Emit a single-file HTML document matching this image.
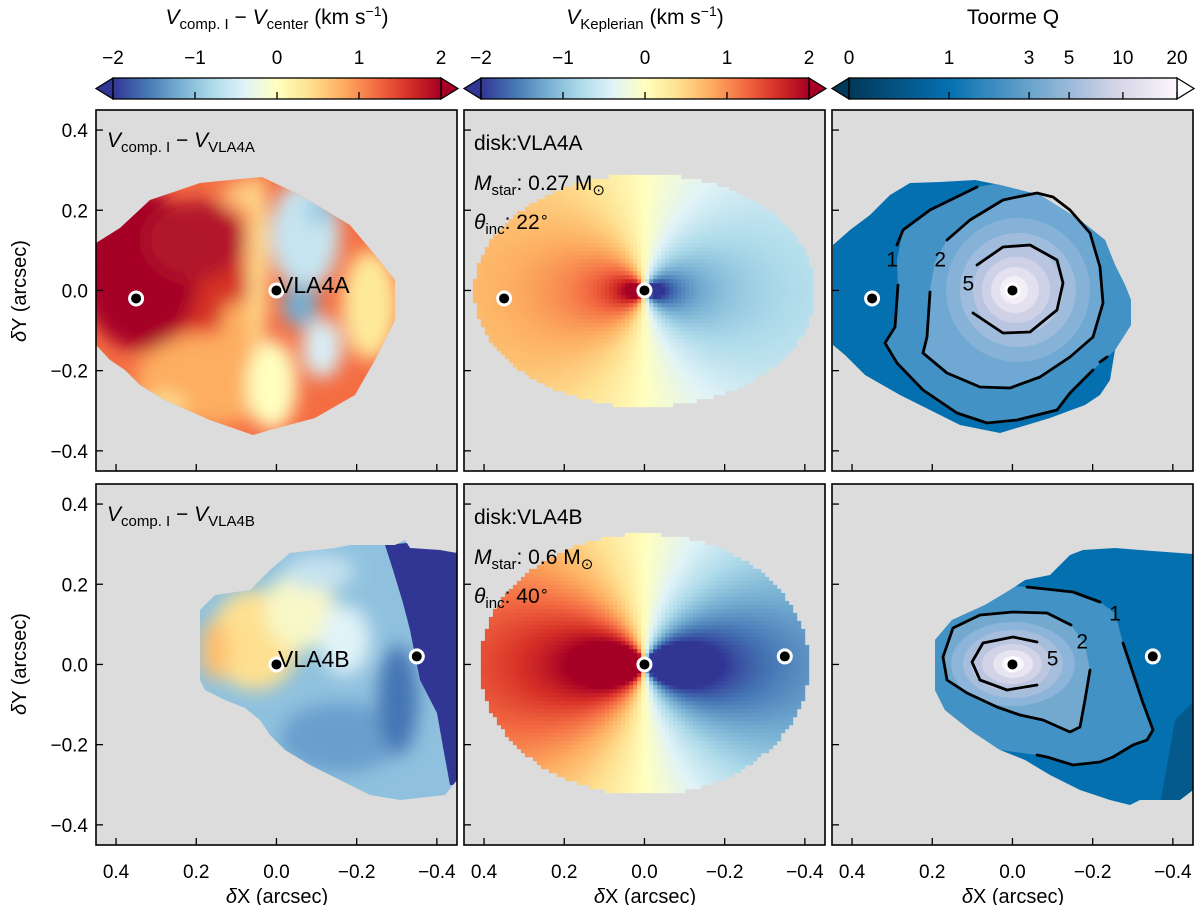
<!DOCTYPE html>
<html><head><meta charset="utf-8"><style>
body{margin:0;background:#fff;}
svg text{font-family:"Liberation Sans","DejaVu Sans",sans-serif;fill:#000;}
</style></head><body>
<svg id="fig" width="1200" height="905" viewBox="0 0 1200 905" xmlns="http://www.w3.org/2000/svg" style="position:absolute;left:0;top:0">
<defs>
<linearGradient id="gRdYlBu" x1="0" x2="1" y1="0" y2="0">
<stop offset="0" stop-color="#313695"/><stop offset="0.1" stop-color="#4575b4"/><stop offset="0.2" stop-color="#74add1"/><stop offset="0.3" stop-color="#abd9e9"/><stop offset="0.4" stop-color="#e0f3f8"/><stop offset="0.5" stop-color="#ffffbf"/><stop offset="0.6" stop-color="#fee090"/><stop offset="0.7" stop-color="#fdae61"/><stop offset="0.8" stop-color="#f46d43"/><stop offset="0.9" stop-color="#d73027"/><stop offset="1" stop-color="#a50026"/>
</linearGradient>
<linearGradient id="gPuBu" x1="0" x2="1" y1="0" y2="0">
<stop offset="0" stop-color="#023858"/><stop offset="0.305" stop-color="#0570b0"/><stop offset="0.58" stop-color="#74a9cf"/><stop offset="0.8" stop-color="#d0d1e6"/><stop offset="1" stop-color="#fff7fb"/>
</linearGradient>
<filter id="blur" x="-20%" y="-20%" width="140%" height="140%"><feGaussianBlur stdDeviation="9"/></filter>
<clipPath id="clipTL"><polygon points="96,243 120,228 150,200 200,183 230,180 262,177 300,195 350,225 375,255 395,280 395,320 375,360 355,395 315,418 270,430 253,435 210,420 165,400 140,385 125,370 110,360 96,345"/></clipPath>
<clipPath id="clipBL"><polygon points="200,610 215,595 250,590 270,570 290,553 335,548 350,545 395,545 405,540 410,548 440,550 457,553 457,780 445,795 400,800 370,795 340,780 310,765 285,750 270,735 260,720 245,708 225,700 205,690 200,680"/></clipPath>
<clipPath id="clipTR"><polygon points="833,245 850,230 870,215 890,195 910,183 940,182 975,180 1000,185 1040,195 1080,220 1105,240 1115,265 1125,285 1131,300 1131,325 1115,350 1110,380 1100,395 1085,405 1050,418 1000,433 960,425 930,410 900,395 865,375 845,355 833,345"/></clipPath>
<clipPath id="clipBR"><polygon points="935,640 952,620 985,605 1010,590 1025,580 1050,575 1070,555 1083,550 1115,548 1140,550 1193,554 1193,790 1180,800 1140,800 1130,805 1110,800 1080,790 1050,775 1025,760 1000,750 970,730 945,710 935,690"/></clipPath>
</defs>

<g id="panels"></g>

<!-- top-left observed map -->
<g clip-path="url(#clipTL)">
<rect x="90" y="170" width="320" height="270" fill="#f46d43"/>
<g filter="url(#blur)">
<ellipse cx="210" cy="380" rx="75" ry="45" fill="#fdae61"/>
<ellipse cx="165" cy="405" rx="22" ry="12" fill="#fee090"/>
<ellipse cx="200" cy="290" rx="55" ry="40" fill="#d73027"/>
<ellipse cx="140" cy="270" rx="60" ry="80" fill="#a50026"/>
<ellipse cx="195" cy="240" rx="50" ry="40" fill="#b2182b"/>
<ellipse cx="245" cy="195" rx="22" ry="16" fill="#fdc57d"/>
<ellipse cx="240" cy="330" rx="20" ry="30" fill="#fdae61"/>
<ellipse cx="258" cy="260" rx="10" ry="90" fill="#fee090"/>
<ellipse cx="272" cy="385" rx="25" ry="45" fill="#ffffbf"/>
<ellipse cx="305" cy="235" rx="35" ry="55" fill="#c6e4f0"/>
<ellipse cx="320" cy="210" rx="15" ry="15" fill="#9ccbe3"/>
<ellipse cx="300" cy="305" rx="18" ry="22" fill="#74add1"/>
<ellipse cx="322" cy="348" rx="20" ry="30" fill="#d8eef5"/>
<ellipse cx="370" cy="305" rx="28" ry="55" fill="#fee99a"/>
</g>
</g>

<!-- bottom-left observed map -->
<g clip-path="url(#clipBL)">
<rect x="195" y="535" width="265" height="270" fill="#8fc1de"/>
<g filter="url(#blur)">
<ellipse cx="255" cy="640" rx="45" ry="50" fill="#fee090"/>
<ellipse cx="215" cy="650" rx="15" ry="30" fill="#fdbf6f"/>
<ellipse cx="300" cy="610" rx="35" ry="40" fill="#f8f8c8"/>
<ellipse cx="345" cy="640" rx="25" ry="35" fill="#e0f3f8"/>
<ellipse cx="320" cy="572" rx="35" ry="18" fill="#c4e2ef"/>
<ellipse cx="340" cy="738" rx="60" ry="35" fill="#6a9fcd"/>
<ellipse cx="398" cy="700" rx="20" ry="55" fill="#4575b4"/>
</g>
<polygon fill="#313695" points="385,545 393,570 403,603 410,630 420,680 437,713 443,747 450,785 462,785 462,538"/>
</g>

<g id="kep"></g>

<!-- top-right Toomre Q -->
<g clip-path="url(#clipTR)">
<rect x="830" y="175" width="310" height="265" fill="#0570b0"/>
<polygon fill="#4292c6" points="977,187 930,210 903,230 897,260 898,290 895,327 885,343 897,363 923,390 957,413 987,423 1017,420 1057,410 1070,393 1093,370 1107,357 1140,330 1140,175 1050,175"/>
<polygon fill="#6fa8d2" points="947,240 970,220 1003,200 1017,197 1037,193 1053,197 1070,210 1090,233 1100,267 1103,303 1093,337 1070,357 1040,377 1010,388 980,387 947,373 923,353 927,337 930,290 935,262"/>
<ellipse cx="1018" cy="290" rx="72" ry="72" fill="#86b2d8"/>
<ellipse cx="1018" cy="290" rx="58" ry="57" fill="#a0bcdc"/>
<ellipse cx="1018" cy="290" rx="45" ry="44" fill="#bac6e1"/>
<ellipse cx="1016" cy="290" rx="34" ry="33" fill="#cfd2e7"/>
<ellipse cx="1015" cy="290" rx="24" ry="23" fill="#e3e0ef"/>
<ellipse cx="1014" cy="290" rx="14" ry="14" fill="#f4eff7"/>
<ellipse cx="1013" cy="290" rx="7" ry="7" fill="#ffffff"/>
</g>
<g fill="none" stroke="#000" stroke-width="2.8" stroke-linejoin="round" stroke-linecap="round">
<polyline points="977,187 930,210 903,230 897,245"/>
<polyline points="898,285 895,327 885,343 897,363 923,390 957,413 987,423 1017,420 1057,410 1070,393 1093,370"/>
<polyline points="1100,362 1107,357"/>
<polyline points="947,240 970,220 1003,200 1017,197 1037,193 1053,197 1070,210 1090,233 1100,267 1103,303 1093,337 1070,357 1040,377 1010,388 980,387 947,373 923,353 927,337 930,292"/>
<polyline points="977,265 1003,247 1030,245 1057,260 1063,283 1057,310 1030,332 1003,333 973,313"/>
</g>

<!-- bottom-right Toomre Q -->
<g clip-path="url(#clipBR)">
<rect x="930" y="540" width="265" height="270" fill="#0570b0"/>
<polygon fill="#045a8d" points="1175,720 1195,700 1195,805 1160,805"/>
<polygon fill="#4292c6" points="1027,587 1073,592 1100,602 1115,613 1123,643 1133,673 1143,703 1153,730 1147,740 1133,745 1113,757 1100,762 1073,765 1047,757 1037,755 1000,750 930,720 930,600 1000,585"/>
<polygon fill="#74a9cf" points="1071,625 1047,613 1013,612 980,615 953,628 943,657 947,680 967,693 997,707 1020,715 1043,720 1070,732 1080,727 1085,700 1090,670 1085,645"/>
<ellipse cx="1013" cy="664" rx="62" ry="42" fill="#8cb5d9"/>
<ellipse cx="1013" cy="664" rx="50" ry="34" fill="#a6bddb"/>
<ellipse cx="1011" cy="664" rx="40" ry="27" fill="#bcc6e1"/>
<ellipse cx="1012" cy="664" rx="30" ry="20" fill="#d3d3e8"/>
<ellipse cx="1013" cy="664" rx="20" ry="14" fill="#e8e4f1"/>
<ellipse cx="1013" cy="664" rx="11" ry="8" fill="#fbf5fa"/>
</g>
<g fill="none" stroke="#000" stroke-width="2.8" stroke-linejoin="round" stroke-linecap="round">
<polyline points="1027,587 1073,592 1100,602"/>
<polyline points="1123,643 1133,673 1143,703 1153,730 1147,740 1133,745 1113,757 1100,762 1073,765 1047,757 1037,755"/>
<polyline points="1071,625 1047,613 1013,612 980,615 953,628 943,657 947,680 967,693 997,707 1020,715 1043,720 1070,732 1080,727 1085,700 1090,670"/>
<polyline points="1037,642 1013,637 983,643 972,662 980,680 1007,690 1037,685"/>
</g>

<g id="overlay"></g>

<g>
<text x="277" y="24" font-size="21" text-anchor="middle"><tspan font-style="italic">V</tspan><tspan font-size="15" dy="5">comp. I</tspan><tspan dy="-5"> − </tspan><tspan font-style="italic">V</tspan><tspan font-size="15" dy="5">center</tspan><tspan dy="-5"> (km s</tspan><tspan font-size="14" dy="-8">−1</tspan><tspan dy="8">)</tspan></text>
<text x="645" y="24" font-size="21" text-anchor="middle"><tspan font-style="italic">V</tspan><tspan font-size="15" dy="5">Keplerian</tspan><tspan dy="-5"> (km s</tspan><tspan font-size="14" dy="-8">−1</tspan><tspan dy="8">)</tspan></text>
<text x="1013" y="24" font-size="21" text-anchor="middle">Toorme Q</text>

<text x="107" y="147" font-size="21"><tspan font-style="italic">V</tspan><tspan font-size="15" dy="5">comp. I</tspan><tspan dy="-5"> − </tspan><tspan font-style="italic">V</tspan><tspan font-size="15" dy="5">VLA4A</tspan></text>
<text x="107" y="521" font-size="21"><tspan font-style="italic">V</tspan><tspan font-size="15" dy="5">comp. I</tspan><tspan dy="-5"> − </tspan><tspan font-style="italic">V</tspan><tspan font-size="15" dy="5">VLA4B</tspan></text>
<text x="278" y="293" font-size="23">VLA4A</text>
<text x="278" y="667" font-size="23">VLA4B</text>

<text x="474" y="150" font-size="21">disk:VLA4A</text>
<text x="474" y="190" font-size="21"><tspan font-style="italic">M</tspan><tspan font-size="15" dy="5">star</tspan><tspan dy="-5">: 0.27 M</tspan><tspan font-size="15" dy="5">⊙</tspan></text>
<text x="474" y="229" font-size="21"><tspan font-style="italic">θ</tspan><tspan font-size="15" dy="5">inc</tspan><tspan dy="-5">: 22</tspan><tspan font-size="15" dy="-7">∘</tspan></text>
<text x="474" y="524" font-size="21">disk:VLA4B</text>
<text x="474" y="564" font-size="21"><tspan font-style="italic">M</tspan><tspan font-size="15" dy="5">star</tspan><tspan dy="-5">: 0.6 M</tspan><tspan font-size="15" dy="5">⊙</tspan></text>
<text x="474" y="603" font-size="21"><tspan font-style="italic">θ</tspan><tspan font-size="15" dy="5">inc</tspan><tspan dy="-5">: 40</tspan><tspan font-size="15" dy="-7">∘</tspan></text>

<text transform="translate(26,291) rotate(-90)" font-size="20" text-anchor="middle"><tspan font-style="italic">δ</tspan>Y (arcsec)</text>
<text transform="translate(26,664) rotate(-90)" font-size="20" text-anchor="middle"><tspan font-style="italic">δ</tspan>Y (arcsec)</text>
<text x="277" y="903" font-size="20" text-anchor="middle"><tspan font-style="italic">δ</tspan>X (arcsec)</text>
<text x="645" y="903" font-size="20" text-anchor="middle"><tspan font-style="italic">δ</tspan>X (arcsec)</text>
<text x="1013" y="903" font-size="20" text-anchor="middle"><tspan font-style="italic">δ</tspan>X (arcsec)</text>
</g>
</svg>
<script>
// ---- data ----
var xTicks = [0.4, 0.2, 0.0, -0.2, -0.4];
var xTickLabels = ["0.4", "0.2", "0.0", "\u22120.2", "\u22120.4"];
var yTicks = [0.4, 0.2, 0.0, -0.2, -0.4];
var yTickLabels = ["0.4", "0.2", "0.0", "\u22120.2", "\u22120.4"];
var velTicks = [-2, -1, 0, 1, 2];
var velTickLabels = ["\u22122", "\u22121", "0", "1", "2"];
var qTicks = [0, 1, 3, 5, 10, 20];
var qTickLabels = ["0", "1", "3", "5", "10", "20"];
var qTickFrac = [0, 0.305, 0.549, 0.671, 0.835, 1.0];
var primaryStar = [[0.0, 0.0], [0.0, 0.0]];
var companionStar = [[0.35, -0.02], [-0.35, 0.02]];
var diskInc = [22, 40];
var diskRx = [0.425, 0.41];
var diskRy = [0.29, 0.325];
var diskAmp = [0.47, 0.9];
var contourLabels = [[["1", 0.30, 0.08], ["2", 0.18, 0.08], ["5", 0.11, 0.02]], [["1", -0.256, 0.13], ["2", -0.174, 0.06], ["5", -0.10, 0.017]]];

var NS = "http://www.w3.org/2000/svg";
var S = 401;
var panelX = [96, 464, 832], panelY = [110, 484], W = 361;
function px(col, X) { return panelX[col] + (0.45 - X) * S; }
function py(row, Y) { return panelY[row] + (0.45 - Y) * S; }
function mk(tag, attrs, parent) { var e = document.createElementNS(NS, tag); for (var k in attrs) e.setAttribute(k, attrs[k]); parent.appendChild(e); return e; }
var panels = document.getElementById('panels');
var overlay = document.getElementById('overlay');

for (var r = 0; r < 2; r++) for (var c = 0; c < 3; c++) {
  var bg = mk('rect', {x: panelX[c], y: panelY[r], width: W, height: W, fill: '#dcdcdc'}, panels);
  
  
}

var cm = [[49,54,149],[69,117,180],[116,173,209],[171,217,233],[224,243,248],[255,255,191],[254,224,144],[253,174,97],[244,109,67],[215,48,39],[165,0,38]];
function rdylbu(v) { var t = Math.max(0, Math.min(1, (v + 2) / 4)) * 10; var i = Math.min(9, Math.floor(t)); var f = t - i; var a = cm[i], b = cm[i + 1];
  return 'rgb(' + Math.round(a[0] + (b[0] - a[0]) * f) + ',' + Math.round(a[1] + (b[1] - a[1]) * f) + ',' + Math.round(a[2] + (b[2] - a[2]) * f) + ')'; }

var kep = document.getElementById('kep');
for (var d = 0; d < 2; d++) {
  var g = mk('g', {}, kep);
  
  
  var ci = Math.cos(diskInc[d] * Math.PI / 180);
  var step = 4 / S;
  for (var X = -0.45; X < 0.45; X += step) for (var Y = -0.45; Y < 0.45; Y += step) {
    var xc = X + step / 2, yc = Y + step / 2;
    if ((xc * xc) / (diskRx[d] * diskRx[d]) + (yc * yc) / (diskRy[d] * diskRy[d]) > 1) continue;
    var yd = yc / ci, rr = Math.sqrt(xc * xc + yd * yd) + 0.002;
    var v = diskAmp[d] * (xc / rr) / Math.sqrt(rr);
    mk('rect', {x: (px(1, X + step)).toFixed(1), y: (py(d, Y + step)).toFixed(1), width: 4.3, height: 4.3, fill: rdylbu(v)}, g);
  }
}

for (var r = 0; r < 2; r++) for (var c = 0; c < 3; c++) {
  var ax = mk('g', {}, overlay);
  
  
  xTicks.forEach(function (t, i) {
    var x = px(c, t);
    mk('line', {x1: x, x2: x, y1: panelY[r] + W, y2: panelY[r] + W - 7, stroke: '#000', 'stroke-width': 1.3}, ax);
    if (r === 1) { var tl = mk('text', {x: x, y: 878, 'font-size': 19, 'text-anchor': 'middle'}, ax); tl.textContent = xTickLabels[i];
      
       }
  });
  yTicks.forEach(function (t, i) {
    var y = py(r, t);
    mk('line', {x1: panelX[c], x2: panelX[c] + 7, y1: y, y2: y, stroke: '#000', 'stroke-width': 1.3}, ax);
    if (c === 0) { var tl = mk('text', {x: 88, y: y + 7, 'font-size': 19, 'text-anchor': 'end'}, ax); tl.textContent = yTickLabels[i];
      
       }
  });
  mk('rect', {x: panelX[c], y: panelY[r], width: W, height: W, fill: 'none', stroke: '#000', 'stroke-width': 1.6}, ax);
  var p = primaryStar[r], q = companionStar[r];
  [[p, 'primary-star'], [q, 'companion-star']].forEach(function (s) {
    var m = mk('circle', {cx: px(c, s[0][0]), cy: py(r, s[0][1]), r: 6.5, fill: '#000', stroke: '#fff', 'stroke-width': 3}, ax);
    
    
  });
}
for (var r = 0; r < 2; r++) contourLabels[r].forEach(function (L) {
  var t = mk('text', {x: px(2, L[1]), y: py(r, L[2]) + 8, 'font-size': 21, 'text-anchor': 'middle'}, overlay);
  t.textContent = L[0];
  
  
});

function colorbar(x0, x1, grad, leftTip, rightTip, ticks, labels, fracs, name) {
  var g = mk('g', {}, overlay);
  
  
  mk('polygon', {points: (x0 - 17) + ',88.5 ' + x0 + ',78 ' + x0 + ',99', fill: leftTip, stroke: '#000', 'stroke-width': 1.3}, g);
  mk('polygon', {points: (x1 + 17) + ',88.5 ' + x1 + ',78 ' + x1 + ',99', fill: rightTip, stroke: '#000', 'stroke-width': 1.3}, g);
  mk('rect', {x: x0, y: 78, width: x1 - x0, height: 21, fill: 'url(#' + grad + ')', stroke: '#000', 'stroke-width': 1.3}, g);
  ticks.forEach(function (t, i) {
    var x = x0 + fracs[i] * (x1 - x0);
    mk('line', {x1: x, x2: x, y1: 99, y2: 92, stroke: '#000', 'stroke-width': 1.3}, g);
    var tl = mk('text', {x: x, y: 64, 'font-size': 19, 'text-anchor': 'middle'}, g); tl.textContent = labels[i];
    
    
  });
}
var vf = velTicks.map(function (v) { return (v + 2) / 4; });
colorbar(113, 441, 'gRdYlBu', '#313695', '#a50026', velTicks, velTickLabels, vf, 'colorbar-velocity-residual');
colorbar(481, 809, 'gRdYlBu', '#313695', '#a50026', velTicks, velTickLabels, vf, 'colorbar-keplerian');
colorbar(849, 1177, 'gPuBu', '#023858', '#ffffff', qTicks, qTickLabels, qTickFrac, 'colorbar-toomre-q');
</script>
</body></html>
